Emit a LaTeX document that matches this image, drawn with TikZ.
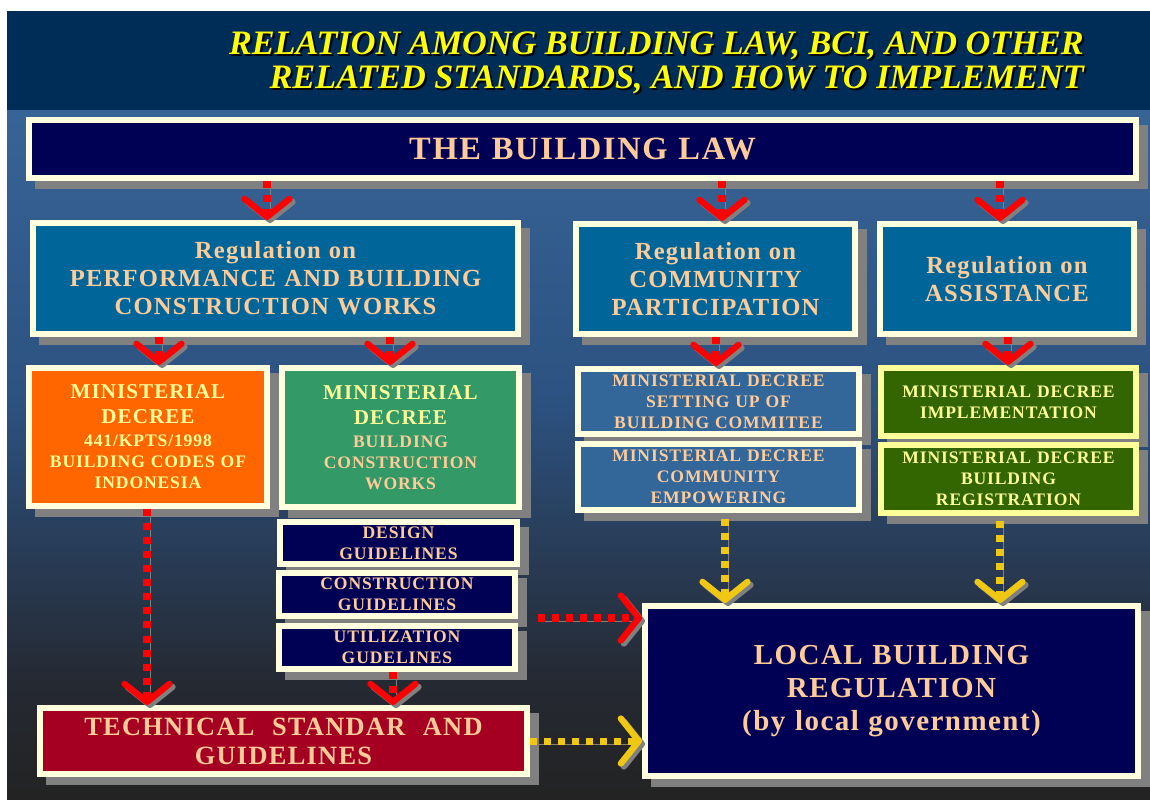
\documentclass[tikz,border=0pt]{standalone}
\usepackage{fontspec}
\setmainfont{Liberation Serif}
\usetikzlibrary{arrows.meta,shadows}
\newfontfamily\boxfont{Liberation Serif}[LetterSpace=5]

\definecolor{cream}{HTML}{FFFFDD}
\definecolor{paleyel}{HTML}{FFFF99}
\definecolor{peach}{HTML}{FFCC99}
\definecolor{lightyel}{HTML}{FFFF99}
\definecolor{titleyel}{HTML}{FFFF00}
\definecolor{shadowgray}{HTML}{808080}
\definecolor{navyin}{HTML}{000055}
\definecolor{tealin}{HTML}{006699}
\definecolor{slatein}{HTML}{336699}
\definecolor{greenin}{HTML}{339966}
\definecolor{olivein}{HTML}{336600}
\definecolor{orangein}{HTML}{FF6600}
\definecolor{crimsonin}{HTML}{A50021}
\definecolor{arrowred}{HTML}{FF0000}
\definecolor{arrowyel}{HTML}{F0C814}
\definecolor{headbg}{RGB}{0,44,88}
\definecolor{bgA}{RGB}{55,100,150}
\definecolor{bgB}{RGB}{44,82,128}
\definecolor{bgC}{RGB}{37,41,50}
\definecolor{bgD}{RGB}{35,35,35}

% blue to charcoal backdrop
\pgfdeclareverticalshading{slidebg}{100bp}{color(0bp)=(bgD); color(25bp)=(bgD);
  color(33.4bp)=(bgC); color(53.8bp)=(bgB); color(75bp)=(bgA); color(100bp)=(bgA)}

\begin{document}
\begin{tikzpicture}[x=0.02cm, y=-0.02cm,
  panel/.style={draw=cream, line width=3.4pt, inner sep=0pt, align=center,
    text=peach,
    drop shadow={shadow xshift=0.18cm, shadow yshift=-0.16cm, fill=shadowgray,
      draw=shadowgray, line width=3.4pt, opacity=1}},
  wh/.style 2 args={minimum width=#1*0.02cm, minimum height=#2*0.02cm,
    text width=#1*0.02cm-14pt},
  fs/.style 2 args={font=\boxfont\bfseries\fontsize{#1}{#2}\selectfont},
  flow/.style={draw=#1, line width=4pt, dash pattern=on 4pt off 4pt,
    -{Straight Barb[length=0.36cm, width=0.9cm, line width=3.6pt, round]},
    preaction={draw=shadowgray, transform canvas={shift={(3,3)}}}},
  heading/.style={anchor=east, align=right,
    font=\fontsize{19.5}{19.3}\selectfont\bfseries\itshape},
]
% background
\fill[white] (0,0) rectangle (1150,799);
\fill[headbg] (7,11) rectangle (1150,110);
\shade[shading=slidebg] (7,110) rectangle (1150,799);

% heading
\node[heading, text=black] (headshade) at (1092,65)
  {RELATION AMONG BUILDING LAW, BCI, AND OTHER\\RELATED STANDARDS, AND HOW TO IMPLEMENT};
\node[heading, text=titleyel] (head) at (1090,63)
  {RELATION AMONG BUILDING LAW, BCI, AND OTHER\\RELATED STANDARDS, AND HOW TO IMPLEMENT};

% law and regulations
\node[panel, fill=navyin, wh={1107}{58}, fs={18.5}{22}] (law) at (582.5,149)
  {THE BUILDING LAW};
\node[panel, fill=tealin, wh={485}{111}, fs={14}{16}] (perf) at (275.5,278.5)
  {Regulation on\\PERFORMANCE AND BUILDING\\CONSTRUCTION WORKS};
\node[panel, fill=tealin, wh={279}{110}, fs={14}{16}] (comm) at (715.5,279)
  {Regulation on\\COMMUNITY\\PARTICIPATION};
\node[panel, fill=tealin, wh={254}{110}, fs={14}{16}] (assist) at (1007,279)
  {Regulation on\\ASSISTANCE};

% ministerial decrees
\node[panel, fill=orangein, text=lightyel, wh={238}{138}, fs={10}{12}] (md441) at (148,437)
  {{\fontsize{12}{14}\selectfont MINISTERIAL}\\[2.2pt]
   {\fontsize{12}{14}\selectfont DECREE}\\[1pt]
   441/KPTS/1998\\BUILDING CODES OF\\INDONESIA};
\node[panel, fill=greenin, text=lightyel, wh={237}{139}, fs={10}{12}] (mdbcw) at (400.5,437.5)
  {{\fontsize{12}{14}\selectfont MINISTERIAL}\\[2.2pt]
   {\fontsize{12}{14}\selectfont DECREE}\\[1pt]
   \textcolor{peach}{BUILDING}\\\textcolor{peach}{CONSTRUCTION}\\\textcolor{peach}{WORKS}};
\node[panel, fill=slatein, wh={281}{65}, fs={10}{11.9}] (mdsetup) at (718.5,401.5)
  {MINISTERIAL DECREE\\SETTING UP OF\\BUILDING COMMITEE};
\node[panel, fill=slatein, wh={281}{66}, fs={10}{11.9}] (mdcomm) at (718.5,477)
  {MINISTERIAL DECREE\\COMMUNITY\\EMPOWERING};
\node[panel, draw=paleyel, fill=olivein, text=lightyel, wh={255}{68}, fs={10}{11.9}] (mdimpl) at (1008.5,402)
  {MINISTERIAL DECREE\\IMPLEMENTATION};
\node[panel, draw=paleyel, fill=olivein, text=lightyel, wh={255}{68}, fs={10}{11.9}] (mdreg) at (1008.5,479)
  {MINISTERIAL DECREE\\BUILDING\\REGISTRATION};

% guidelines
\node[panel, fill=navyin, wh={237}{42}, fs={10}{11.9}] (design) at (398.5,543)
  {DESIGN\\GUIDELINES};
\node[panel, fill=navyin, wh={236}{43}, fs={10}{11.9}] (constr) at (397,594.5)
  {CONSTRUCTION\\GUIDELINES};
\node[panel, fill=navyin, wh={236}{43}, fs={10}{11.9}] (util) at (397,647.5)
  {UTILIZATION\\GUDELINES};

% outcomes
\node[panel, fill=crimsonin, wh={487}{66}, fs={15}{16.5}] (tech) at (283.5,741)
  {TECHNICAL\ \ STANDAR\ \ AND\\GUIDELINES};
\node[panel, fill=navyin, wh={493}{170}, fs={16.5}{18.8}] (local) at (891.5,691)
  {LOCAL BUILDING\\REGULATION\\(by local government)};

% red links
\draw[flow=arrowred] (law.south -| 267,0) -- (perf.north -| 267,0);
\draw[flow=arrowred] (law.south -| 722,0) -- (comm.north -| 722,0);
\draw[flow=arrowred] (law.south -| 1000,0) -- (assist.north -| 1000,0);
\draw[flow=arrowred] (perf.south -| 159,0) -- (md441.north -| 159,0);
\draw[flow=arrowred] (perf.south -| 390,0) -- (mdbcw.north -| 390,0);
\draw[flow=arrowred] (comm.south -| 716,0) -- (mdsetup.north -| 716,0);
\draw[flow=arrowred] (assist.south -| 1008,0) -- (mdimpl.north -| 1008,0);
\draw[flow=arrowred] (md441.south -| 147,0) -- (tech.north -| 147,0);
\draw[flow=arrowred] (util.south -| 393,0) -- (tech.north -| 393,0);
\draw[flow=arrowred, shorten <=0.4cm] (constr.east |- 0,618) -- (local.west |- 0,618);

% yellow links
\draw[flow=arrowyel, shorten <=0.12cm] (mdcomm.south -| 725,0) -- (local.north -| 725,0);
\draw[flow=arrowyel, shorten <=0.1cm] (mdreg.south -| 1000,0) -- (local.north -| 1000,0);
\draw[flow=arrowyel] (tech.east) -- (tech.east -| local.west);
\end{tikzpicture}
\end{document}
